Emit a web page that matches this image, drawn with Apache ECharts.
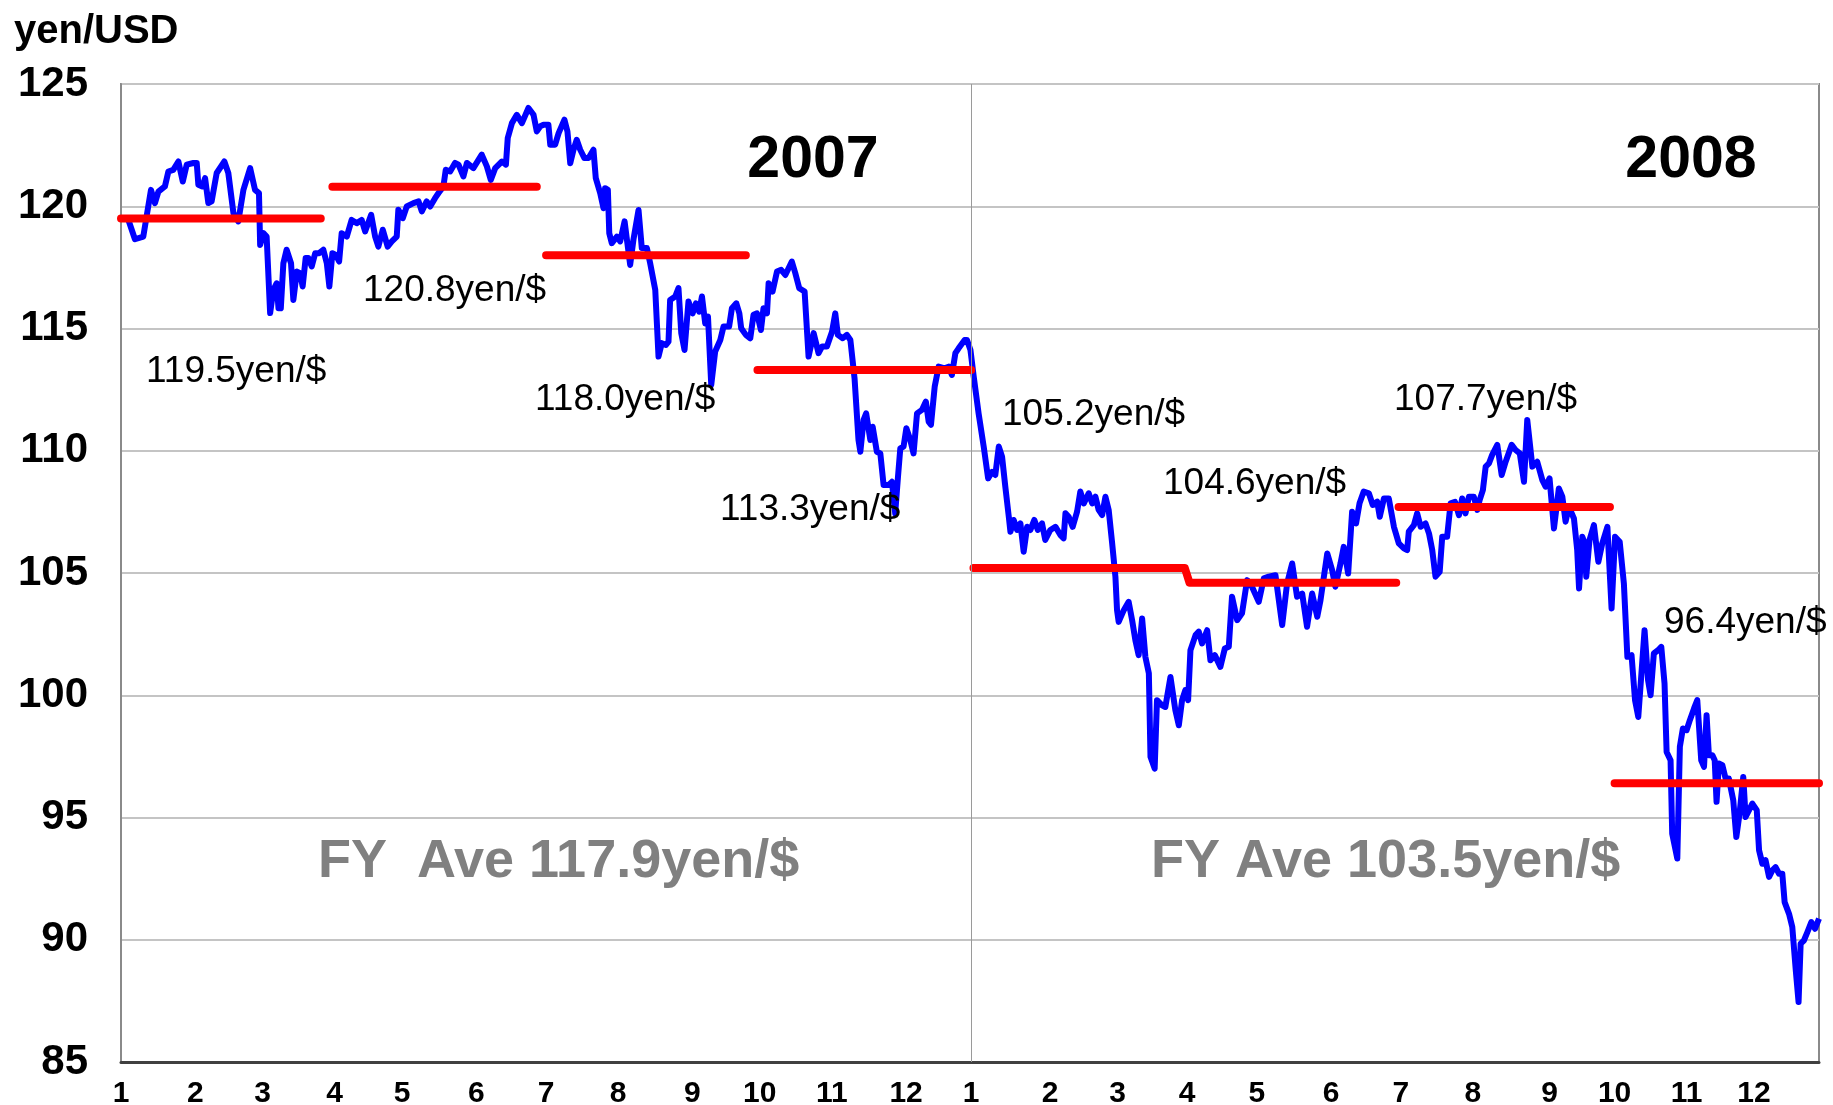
<!DOCTYPE html>
<html>
<head>
<meta charset="utf-8">
<title>yen/USD 2007-2008</title>
<script src="https://cdn.jsdelivr.net/npm/echarts@6/dist/echarts.min.js"></script>
<style>
  html, body { margin: 0; padding: 0; background: #fff; }
  #chart { width: 1833px; height: 1105px; }
</style>
</head>
<body>
<div id="chart"></div>
<script>
// x = day count from 2007-01-01, y = yen per USD
const h1_2007 = [
  [3.2,119.44],[6.0,118.65],[9.6,118.76],[12.9,120.67],[14.6,120.13],[16.1,120.60],[18.9,120.81],[20.4,121.42],
  [22.5,121.49],[24.7,121.83],[26.6,121.01],[28.3,121.70],[31.2,121.77],[32.6,121.77],[33.3,120.88],[35.0,120.81],
  [36.2,121.15],[37.6,120.13],[39.0,120.20],[41.2,121.36],[44.5,121.83],[46.2,121.36],[48.4,119.72],[50.5,119.38],
  [52.7,120.67],[55.6,121.56],[57.7,120.67],[59.4,120.54],[59.9,118.42],[61.3,118.90],[62.7,118.76],[64.2,115.63],
  [65.6,116.58],[67.0,116.85],[67.8,115.83],[68.8,115.83],[69.9,117.67],[71.3,118.22],[73.2,117.67],[74.2,116.17],
  [75.7,117.33],[77.1,117.26],[78.2,116.72],[79.5,117.88],[80.7,117.88],[82.1,117.54],[83.6,118.08],[85.3,118.08],
  [87.1,118.22],[88.6,117.67],[89.7,116.72],[91.0,118.08],[92.5,118.01],[93.9,117.74],[95.0,118.90],[97.2,118.76],
  [99.3,119.44],[101.5,119.31],[103.6,119.44],[105.1,118.97],[107.7,119.65],[109.4,118.76],[110.8,118.35],[112.7,119.04],
  [114.8,118.35],[116.6,118.56],[118.7,118.76],[119.4,119.86],[121.3,119.51],[123.0,119.99],[125.9,120.13],[128.1,120.20],
  [129.5,119.79],[131.6,120.20],[133.1,119.99],[135.2,120.33],[136.7,120.54],[138.8,120.81],[139.8,121.49],[141.7,121.42],
  [143.8,121.77],[145.3,121.70],[147.4,121.22],[148.9,121.77],[151.7,121.56],[155.3,122.11],[157.5,121.63],[159.2,121.08],
  [161.1,121.56],[164.0,121.83],[165.7,121.70],[166.5,122.79],[168.3,123.40],[170.4,123.74],[172.6,123.40],[175.4,124.02],
  [177.6,123.74],[179.0,123.06],[180.5,123.27]
];
const h2_2007 = [
  [181.9,123.33],[184.0,123.33],[184.8,122.52],[186.9,122.52],[188.4,122.99],[190.9,123.54],[192.2,123.06],[193.4,121.76],
  [194.8,122.31],[196.2,122.72],[197.7,122.31],[199.5,121.97],[201.3,121.97],[203.4,122.31],[204.4,121.15],[206.3,120.54],
  [207.7,119.92],[208.4,120.74],[209.6,120.67],[210.2,118.90],[211.3,118.49],[213.5,118.76],[214.9,118.56],[216.8,119.38],
  [217.8,118.63],[219.2,117.60],[220.6,118.63],[222.8,119.85],[224.2,118.29],[226.4,118.29],[227.8,117.67],[230.0,116.58],
  [231.4,113.85],[232.8,114.40],[234.6,114.33],[235.7,114.46],[236.4,116.17],[238.6,116.31],[240.0,116.65],[241.2,114.81],
  [242.6,114.12],[244.3,116.10],[246.1,115.62],[247.5,116.03],[248.9,115.69],[250.1,116.31],[251.5,115.21],[252.7,115.49],
  [254.1,112.69],[255.8,114.06],[258.0,114.53],[259.4,115.08],[261.8,115.08],[263.0,115.83],[264.9,116.03],[266.2,115.62],
  [267.0,115.01],[269.0,114.74],[270.9,114.60],[272.3,115.56],[273.8,115.62],[275.5,114.94],[276.6,115.83],[278.1,115.62],
  [278.8,116.85],[280.5,116.51],[282.4,117.33],[284.2,117.40],[286.0,117.19],[288.8,117.74],[290.3,117.26],[292.0,116.65],
  [294.3,116.51],[296.0,113.85],[298.2,114.81],[300.3,113.99],[301.8,114.26],[303.9,114.26],[306.1,114.87],[307.5,115.62],
  [308.6,114.74],[310.7,114.60],[312.5,114.74],[314.0,114.53],[315.8,112.96],[317.5,110.44],[318.3,109.96],[319.7,111.26],
  [320.8,111.53],[322.6,110.44],[323.6,110.98],[325.4,109.96],[326.9,109.89],[328.3,108.60],[330.5,108.60],[331.9,108.73],
  [333.3,107.44],[334.5,108.94],[335.5,110.10],[336.9,110.17],[338.1,110.92],[339.8,110.44],[341.2,109.89],[342.7,111.53],
  [344.8,111.67],[346.5,112.01],[347.7,111.19],[348.7,111.06],[350.3,112.62],[352.0,113.44],[354.6,113.37],[356.3,113.44],
  [357.7,113.10],[359.2,113.99],[360.6,114.19],[363.2,114.53],[364.2,114.53]
];
const h1_2008 = [
  [365.7,114.12],[367.1,113.03],[369.2,111.53],[371.4,110.17],[373.3,108.87],[375.0,109.14],[376.4,109.01],[377.9,110.17],
  [379.3,109.76],[380.7,108.53],[382.2,107.30],[382.9,106.69],[384.3,107.17],[385.8,106.76],[387.2,107.03],[388.6,105.87],
  [390.1,106.89],[391.5,106.76],[393.2,107.17],[394.7,106.76],[396.5,107.03],[397.9,106.35],[400.1,106.76],[402.3,106.89],
  [404.4,106.55],[405.8,106.42],[406.6,107.44],[408.0,107.30],[409.7,106.89],[411.6,107.51],[413.0,108.33],[414.5,107.85],
  [416.6,108.26],[418.1,107.85],[419.5,108.12],[420.9,107.58],[422.4,107.37],[423.8,108.12],[425.2,107.58],[426.7,106.21],
  [428.1,104.85],[428.8,103.48],[429.5,103.00],[431.7,103.48],[433.8,103.82],[435.3,103.07],[436.7,102.25],[438.1,101.64],
  [439.6,103.14],[441.0,101.57],[442.5,100.89],[443.2,97.48],[445.0,97.00],[446.0,99.80],[448.2,99.59],[449.6,99.52],
  [451.8,100.75],[453.9,99.39],[455.4,98.77],[456.8,99.80],[458.2,100.21],[459.4,99.80],[460.4,101.84],[462.6,102.46],
  [464.0,102.60],[465.4,102.12],[467.6,102.66],[469.0,101.43],[470.9,101.64],[473.3,101.16],[475.2,101.91],[476.9,101.98],
  [478.3,104.03],[480.5,103.07],[482.6,103.35],[484.8,104.71],[486.9,104.44],[489.8,103.82],[492.0,104.78],[494.1,104.85],
  [497.0,104.91],[499.9,102.87],[502.0,104.57],[504.2,105.39],[506.3,104.03],[508.5,104.16],[510.6,102.80],[512.8,104.16],
  [515.0,103.21],[516.4,103.89],[519.3,105.80],[521.4,105.12],[522.8,104.44],[525.0,105.39],[526.4,106.07],[528.3,104.98],
  [530.0,107.51],[531.7,107.03],[533.2,107.85],[535.0,108.33],[537.2,108.26],[538.9,107.78],[540.8,107.92],[541.9,107.30],
  [543.7,108.05],[545.8,108.05]
];
const h2_2008 = [
  [548.0,106.89],[550.1,106.21],[552.3,106.01],[553.7,105.94],[554.4,106.69],[556.6,106.96],[558.0,107.44],[559.5,106.89],
  [561.6,107.03],[563.1,106.62],[564.5,105.94],[565.9,104.85],[567.7,105.05],[568.8,106.48],[570.9,106.48],[572.4,107.85],
  [574.3,107.91],[576.0,107.37],[577.4,108.05],[578.8,107.44],[580.3,108.12],[582.4,108.12],[583.9,107.58],[584.9,107.98],
  [586.3,108.39],[587.5,109.35],[588.9,109.48],[590.3,109.83],[592.5,110.24],[594.4,109.01],[596.1,109.55],[598.7,110.24],
  [600.4,110.03],[602.2,109.89],[604.0,108.73],[605.4,111.26],[607.6,109.35],[609.7,109.55],[611.9,108.80],[613.3,108.53],
  [615.0,108.87],[616.9,106.82],[619.0,108.46],[620.5,108.12],[621.9,107.10],[623.3,107.71],[625.5,107.23],[626.9,105.94],
  [627.7,104.37],[629.1,106.48],[630.2,106.21],[630.8,104.85],[632.2,106.35],[634.1,106.96],[636.0,105.46],[637.7,106.21],
  [639.9,106.89],[641.7,103.55],[643.2,106.48],[645.2,106.28],[647.0,104.57],[648.5,101.57],[650.3,101.64],[651.8,99.80],
  [653.2,99.11],[655.9,102.66],[657.4,100.62],[658.5,100.00],[659.9,101.71],[661.7,101.84],[663.1,101.98],[664.5,100.48],
  [665.4,97.68],[667.1,97.34],[667.8,94.34],[670.0,93.32],[671.1,97.89],[672.4,98.64],[674.0,98.57],[675.4,98.98],
  [677.2,99.46],[678.6,99.80],[680.3,97.34],[681.5,97.07],[682.6,99.18],[683.6,97.55],[685.1,97.55],[686.1,97.34],
  [686.9,95.64],[687.9,97.21],[689.4,97.14],[690.8,96.59],[692.2,96.59],[694.1,95.70],[695.4,94.20],[696.8,95.16],
  [698.4,96.66],[699.4,95.02],[700.9,95.30],[702.3,95.57],[704.2,95.30],[705.2,93.66],[706.6,93.11],[708.0,93.25],
  [709.5,92.57],[710.9,92.84],[712.3,92.97],[713.8,92.70],[715.2,92.70],[716.2,91.54],[718.1,91.06],[719.5,90.52],
  [721.0,88.75],[722.2,87.45],[723.1,89.84],[724.5,89.97],[726.0,90.31],[727.7,90.72],[729.3,90.45],[731.0,90.86]
];

// quarterly averages (red bars)
const avgStart = [0, 91, 183, 274, 367, 460, 550, 643];
const avgEnd = [86, 179, 269, 366, 458, 549, 641, 731];
const avgYen = [119.5, 120.8, 118.0, 113.3, 105.2, 104.6, 107.7, 96.4];
const avgJoinNext = [false, false, false, false, true, false, false, false];
const avgText = ["119.5yen/$", "120.8yen/$", "118.0yen/$", "113.3yen/$", "105.2yen/$", "104.6yen/$", "107.7yen/$", "96.4yen/$"];

// month tick positions (day count)
const monthTicks = [0, 32, 61, 92, 121, 153, 183, 214, 246, 275, 306, 338, 366, 400, 429, 459, 489, 521, 551, 582, 615, 643, 674, 703];
const monthLabels = ["1","2","3","4","5","6","7","8","9","10","11","12","1","2","3","4","5","6","7","8","9","10","11","12"];
const yearLineDay = 366;
const dayMax = 731;

const FONT = "Liberation Sans, Arial, Helvetica, sans-serif";

const rateData = h1_2007.concat(h2_2007, h1_2008, h2_2008);

let avgData = [];
avgYen.forEach((v, i) => {
  avgData.push([avgStart[i], v]);
  avgData.push([avgEnd[i], v]);
  if (!avgJoinNext[i]) avgData.push(null);
});

const chart = echarts.init(document.getElementById("chart"));

// label positions in pixels
const notePos = [[146, 372], [363, 291], [535, 400], [720, 510], [1002, 415], [1163, 484], [1394, 400], [1664, 623]];

let graphic = avgText.map((t, i) => ({
  type: "text",
  x: notePos[i][0],
  y: notePos[i][1],
  z: 100,
  style: { text: t, font: "37px " + FONT, fill: "#000", verticalAlign: "middle" }
}));
graphic.push(
  { type: "text", x: 14, y: 32, style: { text: "yen/USD", font: "bold 40px " + FONT, fill: "#000", verticalAlign: "middle" } },
  { type: "text", x: 813, y: 161, style: { text: "2007", font: "bold 59px " + FONT, fill: "#000", align: "center", verticalAlign: "middle" } },
  { type: "text", x: 1691, y: 161, style: { text: "2008", font: "bold 59px " + FONT, fill: "#000", align: "center", verticalAlign: "middle" } },
  { type: "text", x: 318, y: 862, style: { text: "FY  Ave 117.9yen/$", font: "bold 54px " + FONT, fill: "#808080", verticalAlign: "middle" } },
  { type: "text", x: 1151, y: 862, style: { text: "FY Ave 103.5yen/$", font: "bold 54px " + FONT, fill: "#808080", verticalAlign: "middle" } }
);

const option = {
  backgroundColor: "#fff",
  animation: false,
  grid: {
    left: 121,
    right: 14,
    top: 84,
    bottom: 43,
    outerBoundsMode: "none",
    show: true,
    borderColor: "#8a8a8a",
    borderWidth: 2
  },
  xAxis: {
    type: "value",
    min: 0,
    max: dayMax,
    axisLine: { show: true, lineStyle: { color: "#404040", width: 3 } },
    axisTick: { show: false },
    splitLine: { show: false },
    axisLabel: {
      customValues: monthTicks,
      margin: 17,
      fontSize: 30,
      fontWeight: "bold",
      fontFamily: FONT,
      color: "#000",
      formatter: function (val) {
        let i = monthTicks.indexOf(val);
        return i >= 0 ? monthLabels[i] : "";
      }
    }
  },
  yAxis: {
    type: "value",
    min: 85,
    max: 125,
    interval: 5,
    axisLine: { show: true, lineStyle: { color: "#8a8a8a", width: 2 } },
    axisTick: { show: false },
    splitLine: { show: true, lineStyle: { color: "#c4c4c4", width: 2 } },
    axisLabel: {
      margin: 33,
      fontSize: 42,
      fontWeight: "bold",
      fontFamily: FONT,
      color: "#000"
    }
  },
  series: [
    {
      name: "yen/USD",
      type: "line",
      data: rateData,
      showSymbol: false,
      symbol: "none",
      lineStyle: { color: "#0000ff", width: 6, join: "round" },
      z: 3,
      markLine: {
        silent: true,
        symbol: "none",
        label: { show: false },
        lineStyle: { color: "#9a9a9a", width: 1, type: "solid" },
        data: [{ xAxis: yearLineDay }]
      }
    },
    {
      name: "quarter average",
      type: "line",
      data: avgData,
      connectNulls: false,
      showSymbol: false,
      symbol: "none",
      lineStyle: { color: "#ff0000", width: 8, cap: "round", join: "round" },
      z: 4
    }
  ],
  graphic: graphic
};

chart.setOption(option);
window.addEventListener("resize", function () {
  chart.resize();
});
</script>
</body>
</html>
